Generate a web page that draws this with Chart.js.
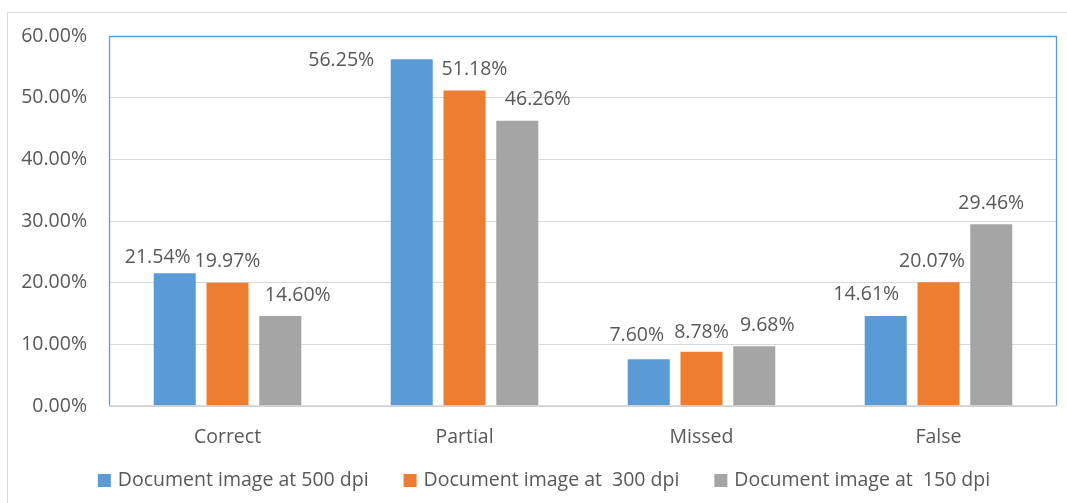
<!DOCTYPE html>
<html>
<head>
<meta charset="utf-8">
<title>Detection results by document resolution</title>
<script src="https://cdn.jsdelivr.net/npm/chart.js@4.4.1/dist/chart.umd.min.js"></script>
<style>
  html, body { margin: 0; padding: 0; background: #ffffff; }
  #wrap { width: 1067px; height: 503px; }
</style>
</head>
<body>
<div id="wrap"><canvas id="chart" width="1067" height="503"></canvas></div>
<script>
// Result categories and the share of each per scan resolution (%)
const categories = ['Correct', 'Partial', 'Missed', 'False'];
const seriesNames = ['Document image at 500 dpi', 'Document image at  300 dpi', 'Document image at  150 dpi'];
const dpi500 = [21.54, 56.25, 7.60, 14.61];
const dpi300 = [19.97, 51.18, 8.78, 20.07];
const dpi150 = [14.60, 46.26, 9.68, 29.46];
const yTicks = [0, 10, 20, 30, 40, 50, 60];

// Hand-placed nudges for value labels [dx, dy] so neighbours don't collide
const labelNudge = [
  [[-17, 5], [-70.5, 22.5], [-12, -3], [-19.5, 0]],
  [[0, 0], [10, 0], [0, 1.5], [-6.5, 0]],
  [[17.5, 0], [20.5, 0], [13, 0], [0, 0]]
];

const COLORS = ['#5B9BD5', '#ED7D31', '#A5A5A5'];
const TEXT = '#595959';
const FONT = "'Open Sans', 'Noto Sans', sans-serif";
const FS = 19.5;

const frame = {
  id: 'frame',
  beforeDraw(chart) {
    const ctx = chart.ctx;
    ctx.save();
    ctx.strokeStyle = '#D9D9D9';
    ctx.lineWidth = 1;
    ctx.strokeRect(7.5, 12.5, 1100, 600);
    ctx.restore();
  },
  afterDraw(chart) {
    const { ctx, chartArea: a } = chart;
    ctx.save();
    // plot area outline
    ctx.strokeStyle = '#5B9BD5';
    ctx.lineWidth = 1.3;
    ctx.beginPath();
    ctx.moveTo(a.left + 0.5, a.bottom);
    ctx.lineTo(a.left + 0.5, a.top + 0.5);
    ctx.lineTo(a.right - 0.5, a.top + 0.5);
    ctx.lineTo(a.right - 0.5, a.bottom);
    ctx.stroke();
    // category axis line
    ctx.strokeStyle = '#CFCFCF';
    ctx.lineWidth = 1.5;
    ctx.beginPath();
    ctx.moveTo(a.left, a.bottom);
    ctx.lineTo(a.right, a.bottom);
    ctx.stroke();
    ctx.restore();
  }
};

const valueLabels = {
  id: 'valueLabels',
  afterDatasetsDraw(chart) {
    const ctx = chart.ctx;
    ctx.save();
    ctx.font = FS + 'px ' + FONT;
    ctx.fillStyle = TEXT;
    ctx.textAlign = 'center';
    ctx.textBaseline = 'middle';
    chart.data.datasets.forEach((ds, di) => {
      chart.getDatasetMeta(di).data.forEach((bar, i) => {
        const [dx, dy] = labelNudge[di][i];
        ctx.fillText(ds.data[i].toFixed(2) + '%', bar.x + dx, bar.y - 21 + dy);
      });
    });
    ctx.restore();
  }
};

const bottomLegend = {
  id: 'bottomLegend',
  afterDraw(chart) {
    const ctx = chart.ctx;
    ctx.save();
    ctx.font = FS + 'px ' + FONT;
    const box = 13, gapText = 7, gapItem = 35;
    const items = chart.data.datasets.map(ds => ({
      label: ds.label, color: ds.backgroundColor, w: ctx.measureText(ds.label).width
    }));
    const total = items.reduce((s, it) => s + box + gapText + it.w, 0) + gapItem * (items.length - 1);
    let x = 544 - total / 2;
    const cy = 480.5;
    ctx.textBaseline = 'middle';
    ctx.textAlign = 'left';
    items.forEach(it => {
      ctx.fillStyle = it.color;
      ctx.fillRect(x, cy - box / 2, box, box);
      ctx.fillStyle = TEXT;
      ctx.fillText(it.label, x + box + gapText, cy);
      x += box + gapText + it.w + gapItem;
    });
    ctx.restore();
  }
};

new Chart(document.getElementById('chart'), {
  type: 'bar',
  data: {
    labels: categories,
    datasets: [dpi500, dpi300, dpi150].map((d, i) => ({
      label: seriesNames[i],
      data: d,
      backgroundColor: COLORS[i],
      borderWidth: 0,
      categoryPercentage: 0.668,
      barPercentage: 0.796
    }))
  },
  options: {
    responsive: false,
    animation: false,
    layout: { padding: { top: 36, right: 10, left: 0, bottom: 0 } },
    plugins: { legend: { display: false }, tooltip: { enabled: false } },
    scales: {
      x: {
        grid: { display: false, drawTicks: false },
        border: { display: false },
        ticks: { color: TEXT, font: { family: FONT, size: FS }, padding: 20 },
        afterFit(scale) { scale.height = 97; }
      },
      y: {
        min: 0,
        max: 60,
        afterBuildTicks(scale) { scale.ticks = yTicks.map(v => ({ value: v })); },
        grid: { color: '#D9D9D9', lineWidth: 1, drawTicks: false },
        border: { display: false },
        ticks: {
          color: TEXT,
          font: { family: FONT, size: FS },
          padding: 22,
          callback: v => v.toFixed(2) + '%'
        },
        afterFit(scale) { scale.width = 109; }
      }
    }
  },
  plugins: [frame, valueLabels, bottomLegend]
});
</script>
</body>
</html>
